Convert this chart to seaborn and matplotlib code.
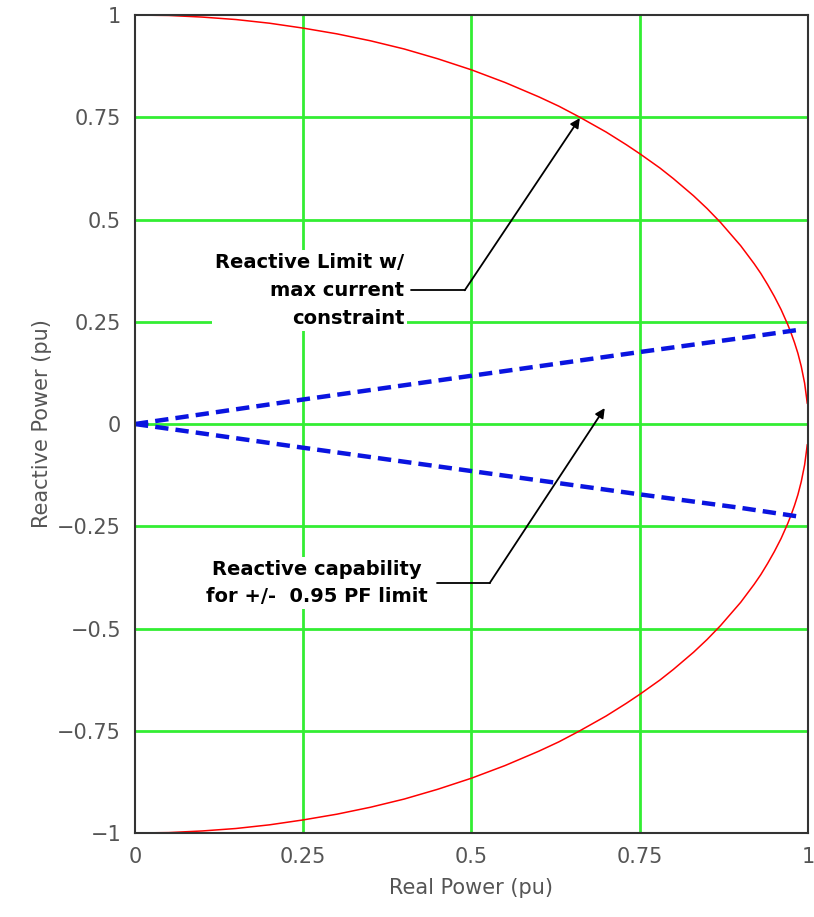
import pandas as pd
import seaborn as sns
import matplotlib.pyplot as plt

# red limit curve (upper half / lower half)
limit_p = [0.0, 0.05, 0.10, 0.15, 0.20, 0.25, 0.30, 0.35, 0.40, 0.45, 0.50,
           0.55, 0.60, 0.63, 0.66, 0.70, 0.73, 0.75, 0.78, 0.80, 0.83, 0.85,
           0.87, 0.90, 0.92, 0.93, 0.94, 0.95, 0.96, 0.97, 0.975, 0.98, 0.985,
           0.99, 0.995, 0.998, 0.999]
limit_q = [1.0, 0.999, 0.995, 0.989, 0.980, 0.968, 0.954, 0.937, 0.917, 0.893,
           0.866, 0.835, 0.800, 0.777, 0.751, 0.714, 0.683, 0.661, 0.626, 0.600,
           0.558, 0.527, 0.493, 0.436, 0.392, 0.368, 0.341, 0.312, 0.280, 0.243,
           0.222, 0.199, 0.173, 0.141, 0.100, 0.063, 0.05]

# blue +/- 0.95 PF lines
pf_p = [0.0, 0.10, 0.25, 0.50, 0.75, 0.90, 0.985]
pf_q_up = [0.0, 0.024, 0.060, 0.118, 0.176, 0.210, 0.230]
pf_q_dn = [0.0, -0.023, -0.058, -0.115, -0.172, -0.205, -0.226]

ticks = [0, 0.25, 0.5, 0.75, 1]
yticks = [-1, -0.75, -0.5, -0.25, 0, 0.25, 0.5, 0.75, 1]

upper = pd.DataFrame({'P': limit_p, 'Q': limit_q})
lower = pd.DataFrame({'P': limit_p, 'Q': [-q for q in limit_q]})
pf_up = pd.DataFrame({'P': pf_p, 'Q': pf_q_up})
pf_dn = pd.DataFrame({'P': pf_p, 'Q': pf_q_dn})

sns.set_style('white')
plt.rcParams['font.family'] = ['DejaVu Sans']

fig = plt.figure(figsize=(8.14, 9.17), dpi=100)
ax = fig.add_axes([0.1658, 0.0916, 0.8268, 0.892])

for y in yticks[1:-1]:
    ax.axhline(y, color='#33ee33', lw=2, zorder=0)
for x in ticks[1:-1]:
    ax.axvline(x, color='#33ee33', lw=2, zorder=0)

sns.lineplot(data=upper, x='P', y='Q', color='red', lw=1.1, sort=False, ax=ax)
sns.lineplot(data=lower, x='P', y='Q', color='red', lw=1.1, sort=False, ax=ax)
sns.lineplot(data=pf_up, x='P', y='Q', color='#0a14e0', lw=3.2, sort=False,
             ax=ax, linestyle=(0, (3, 1.6)))
sns.lineplot(data=pf_dn, x='P', y='Q', color='#0a14e0', lw=3.2, sort=False,
             ax=ax, linestyle=(0, (3, 1.6)))

ax.set_xlim(0, 1)
ax.set_ylim(-1, 1)
ax.set_xticks(ticks)
ax.set_xticklabels(['0', '0.25', '0.5', '0.75', '1'])
ax.set_yticks(yticks)
ax.set_yticklabels(['\u22121', '\u22120.75', '\u22120.5', '\u22120.25', '0',
                    '0.25', '0.5', '0.75', '1'])
ax.tick_params(labelsize=15, labelcolor='#555555', length=0, pad=10)
for s in ax.spines.values():
    s.set_color('#333333')
    s.set_linewidth(1.5)

ax.set_xlabel('Real Power (pu)', fontsize=15, color='#555555', labelpad=8)
ax.set_ylabel('Reactive Power (pu)', fontsize=15, color='#555555', labelpad=4)

bbox = dict(facecolor='white', edgecolor='none', pad=2)
ax.text(0.40, 0.327, 'Reactive Limit w/\nmax current\nconstraint', ha='right',
        va='center', multialignment='right', fontsize=14, fontweight='bold',
        color='black', linespacing=1.6, bbox=bbox, zorder=5)
ax.plot([0.41, 0.49], [0.327, 0.327], color='black', lw=1.3, zorder=5)
ax.annotate('', xy=(0.661, 0.748), xytext=(0.49, 0.327),
            arrowprops=dict(arrowstyle='-|>', color='black', lw=1.3,
                            mutation_scale=14, shrinkA=0, shrinkB=0), zorder=5)

ax.text(0.27, -0.388, 'Reactive capability\nfor +/-  0.95 PF limit', ha='center',
        va='center', multialignment='center', fontsize=14, fontweight='bold',
        color='black', linespacing=1.55, bbox=bbox, zorder=5)
ax.plot([0.449, 0.527], [-0.389, -0.389], color='black', lw=1.3, zorder=5)
ax.annotate('', xy=(0.698, 0.039), xytext=(0.527, -0.389),
            arrowprops=dict(arrowstyle='-|>', color='black', lw=1.3,
                            mutation_scale=14, shrinkA=0, shrinkB=0), zorder=5)

fig.savefig('out.png', dpi=100)
